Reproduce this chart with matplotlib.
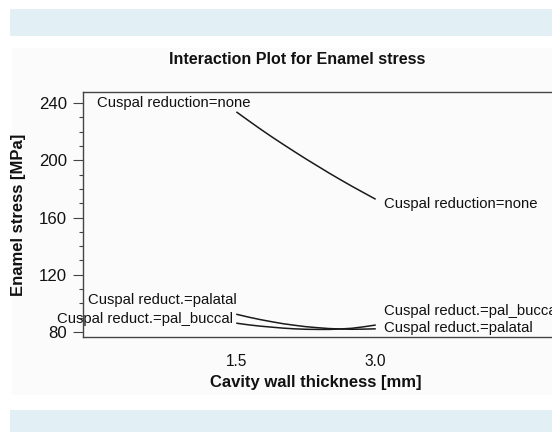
import numpy as np
import matplotlib
matplotlib.use("Agg")
from matplotlib import pyplot as plt
from matplotlib.patches import Rectangle
from matplotlib.ticker import MultipleLocator

plt.rcParams['font.family'] = ['Liberation Sans', 'DejaVu Sans']

# cavity wall thickness [mm] and enamel stress [MPa]
thickness = [1.5, 1.625, 1.75, 1.875, 2.0, 2.125, 2.25, 2.375, 2.5, 2.625, 2.75, 2.875, 3.0]
stress_none = [233.5, 227.7, 222.0, 216.5, 211.2, 206.0, 200.9, 196.0, 191.1, 186.4, 181.8, 177.4, 173.0]
stress_palatal = [92.3, 90.4, 88.7, 87.2, 85.8, 84.7, 83.7, 83.0, 82.4, 82.1, 81.9, 82.0, 82.2]
stress_pal_buccal = [86.1, 85.0, 84.1, 83.4, 82.7, 82.2, 81.9, 81.8, 81.8, 82.1, 82.6, 83.6, 84.8]

xticks = [1.5, 3.0]
xticklabels = ['1.5', '3.0']

W, H = 552, 432
fig = plt.figure(figsize=(W / 100, H / 100), dpi=100)
fig.patch.set_facecolor('white')

def px_rect(x0, y0, x1, y1, color):
    fig.patches.append(Rectangle((x0 / W, 1 - y1 / H), (x1 - x0) / W, (y1 - y0) / H,
                                 transform=fig.transFigure, facecolor=color,
                                 edgecolor='none', zorder=-5))

px_rect(10, 9, 552, 36, '#e2f0f5')
px_rect(10, 410, 552, 432, '#e2f0f5')
px_rect(12, 48, 552, 395, '#fbfbfb')

# axes box in pixels: left 83, right 560 (off canvas), top 92, bottom 337
ax = fig.add_axes([83 / W, 1 - 337 / H, (560 - 83) / W, (337 - 92) / H])
ax.set_zorder(2)
ax.set_facecolor('none')
ax.set_xlim(-0.174, 5.011)
ax.set_ylim(76.5, 247.7)

lc = '#1a1a1a'
ax.plot(thickness, stress_none, color=lc, lw=1.1)
ax.plot(thickness, stress_palatal, color=lc, lw=1.1)
ax.plot(thickness, stress_pal_buccal, color=lc, lw=1.1)

fs = 10.7
def label(text, x, y, dx, dy, ha):
    ax.annotate(text, (x, y), xytext=(dx, dy), textcoords='offset points',
                ha=ha, va='center', fontsize=fs, color='#111111', annotation_clip=False)

label('Cuspal reduction=none', thickness[0], stress_none[0], 9.4, 6.5, 'right')
label('Cuspal reduct.=palatal', thickness[0], stress_palatal[0], 0, 10.3, 'right')
label('Cuspal reduct.=pal_buccal', thickness[0], stress_pal_buccal[0], -2.9, 2.9, 'right')
label('Cuspal reduction=none', thickness[-1], stress_none[-1], 6.5, -4.0, 'left')
label('Cuspal reduct.=pal_buccal', thickness[-1], stress_pal_buccal[-1], 6.5, 10.3, 'left')
label('Cuspal reduct.=palatal', thickness[-1], stress_palatal[-1], 6.5, 0.5, 'left')

for s in ['left', 'bottom', 'top']:
    ax.spines[s].set_color('#444444')
    ax.spines[s].set_linewidth(1.0)
ax.spines['right'].set_visible(False)

ax.set_yticks([80, 120, 160, 200, 240])
ax.yaxis.set_minor_locator(MultipleLocator(10))
ax.tick_params(axis='y', which='major', length=7.2, width=0.8, color='#444444',
               labelsize=12.1, pad=4.3, labelcolor='#111111')
ax.tick_params(axis='y', which='minor', length=2.9, width=0.8, color='#444444')
ax.set_xticks(xticks)
ax.set_xticklabels(xticklabels)
ax.tick_params(axis='x', length=0, labelsize=11.2, pad=12, labelcolor='#111111')

ax.set_ylabel('Enamel stress [MPa]', fontsize=12, fontweight='bold', color='#111111')
ax.yaxis.label.set_va('center')
ax.yaxis.set_label_coords(-64 / 477, 0.5)
ax.set_xlabel('Cavity wall thickness [mm]', fontsize=12, fontweight='bold', color='#111111')
ax.xaxis.label.set_va('center')
ax.xaxis.set_label_coords((316 - 83) / 477, -46 / 245)

fig.text(297 / W, 1 - 59 / H, 'Interaction Plot for Enamel stress', ha='center', va='center',
         fontsize=11.5, fontweight='bold', color='#111111')

fig.savefig('out.png', dpi=100)
